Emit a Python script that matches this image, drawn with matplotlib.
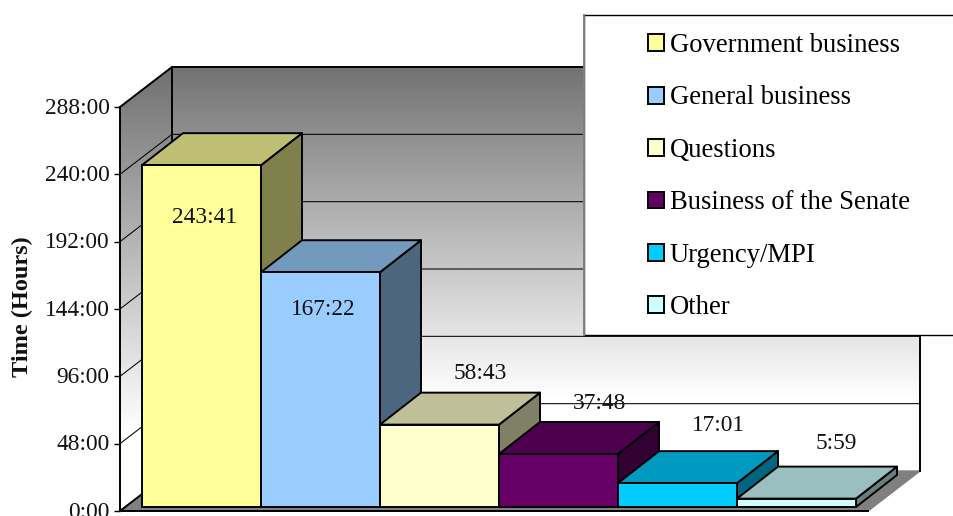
import numpy as np
import matplotlib
matplotlib.use('Agg')
import matplotlib.pyplot as plt
from matplotlib.patches import Patch, Polygon, Rectangle
from matplotlib.transforms import ScaledTranslation

plt.rcParams['font.family'] = ['Liberation Serif', 'DejaVu Serif']

# Data
categories = ['Government business', 'General business', 'Questions',
              'Business of the Senate', 'Urgency/MPI', 'Other']
time_labels = ['243:41', '167:22', '58:43', '37:48', '17:01', '5:59']
colors = ['#FFFF99', '#99CCFF', '#FFFFCC', '#660066', '#00CCFF', '#CCFFFF']
ticks = [0, 48, 96, 144, 192, 240, 288]

hours = [int(t.split(':')[0]) + int(t.split(':')[1]) / 60 for t in time_labels]

# Layout, in pixels of the 954x516 picture
W, H = 954, 516
ax_left, ax_right, ax_bottom, ax_top = 120, 868, 511, 107
bar_px = 119
px_per_hour = (ax_bottom - ax_top) / 288

def dx(px):
    return px / bar_px

def dy(px):
    return px / px_per_hour

fig = plt.figure(figsize=(W / 100, H / 100), dpi=100)
ax = fig.add_axes([ax_left / W, 1 - ax_bottom / H,
                   (ax_right - ax_left) / W, (ax_bottom - ax_top) / H])
xmin = -dx(22)
xmax = xmin + dx(ax_right - ax_left)
wall_dx, wall_dy = dx(52), dy(40)   # depth of the chart box
bar_dx, bar_dy = dx(41), dy(32)     # depth of a bar
base = dy(4)                        # bars stand a little inside the floor


def gradient_wall(points, top, bottom, darkest):
    # grey to white gradient clipped to a polygon, white comes before the floor
    poly = Polygon(points, closed=True, transform=ax.transData)
    grad = np.clip(np.linspace(darkest, 1.12, 256), 0, 1).reshape(-1, 1)
    im = ax.imshow(grad, extent=[xmin, xmax + wall_dx, bottom, top], aspect='auto',
                   cmap='gray', vmin=0, vmax=1, origin='upper', zorder=1)
    im.set_clip_box(fig.bbox)
    im.set_clip_path(poly)


# Walls and floor
back_wall = [(xmin + wall_dx, wall_dy), (xmax + wall_dx, wall_dy),
             (xmax + wall_dx, 288 + wall_dy), (xmin + wall_dx, 288 + wall_dy)]
side_wall = [(xmin, 0), (xmin + wall_dx, wall_dy),
             (xmin + wall_dx, 288 + wall_dy), (xmin, 288)]
floor = [(xmin, 0), (xmax, 0), (xmax + wall_dx, wall_dy), (xmin + wall_dx, wall_dy)]
gradient_wall(back_wall, 288 + wall_dy, wall_dy, 0.45)
gradient_wall(side_wall, 288 + wall_dy, 0, 0.44)
ax.add_patch(Polygon(floor, closed=True, fc='#808080', ec='#808080', lw=1, zorder=1.5, clip_on=False))

# Grid lines run along the side wall and the back wall
for t in ticks[1:-1]:
    ax.plot([xmin, xmin + wall_dx, xmax + wall_dx], [t, t + wall_dy, t + wall_dy],
            color='black', lw=0.75, zorder=1.6, clip_on=False)

# Outline of the walls
ax.plot([xmin, xmin + wall_dx, xmax + wall_dx], [288, 288 + wall_dy, 288 + wall_dy],
        color='black', lw=1.4, zorder=1.7, clip_on=False)
ax.plot([xmin + wall_dx, xmin + wall_dx], [wall_dy, 288 + wall_dy],
        color='black', lw=1.4, zorder=1.7, clip_on=False)
ax.plot([xmax + wall_dx, xmax + wall_dx], [wall_dy, 288 + wall_dy],
        color='black', lw=1.4, zorder=1.7, clip_on=False)
ax.plot([xmin, xmin + wall_dx], [0, wall_dy], color='black', lw=1.4, zorder=1.7, clip_on=False)


def shade(color, f):
    return tuple(c * f for c in matplotlib.colors.to_rgb(color))


# Bars, front face by the axes, top and side added as polygons
# each bar sits over the side of the bar before it
x = np.arange(len(hours))
bars = ax.bar(x, hours, bottom=base, width=1, align='edge', color=colors,
              edgecolor='black', linewidth=1.4, clip_on=False)
for i, (h, c) in enumerate(zip(hours, colors)):
    y = base + h
    top = [(i, y), (i + 1, y), (i + 1 + bar_dx, y + bar_dy), (i + bar_dx, y + bar_dy)]
    side = [(i + 1, base), (i + 1 + bar_dx, base + bar_dy), (i + 1 + bar_dx, y + bar_dy), (i + 1, y)]
    ax.add_patch(Polygon(side, closed=True, fc=shade(c, 0.5), ec='black', lw=1.4,
                         joinstyle='round', zorder=3 + i / 10, clip_on=False))
    ax.add_patch(Polygon(top, closed=True, fc=shade(c, 0.75), ec='black', lw=1.4,
                         joinstyle='round', zorder=3 + i / 10, clip_on=False))
    bars[i].set_zorder(3.05 + i / 10)

# Value labels: pixels from the back edge of the bar's top
label_shift = [-84.5, -69.5, 19.5, 18.5, 25.5, 23.5]
label_x = [-38, -38, 0, 0, 0, -1]
for i, (h, s, t, lx) in enumerate(zip(hours, label_shift, time_labels, label_x)):
    ax.text(i + 0.5 + bar_dx + dx(lx), base + h + bar_dy + dy(s), t, fontsize=16.8,
            ha='center', va='center', color='#111111', zorder=6, clip_on=False)

ax.set_xlim(xmin, xmax)
ax.set_ylim(0, 288)
ax.set_xticks([])
ax.set_yticks(ticks)
ax.set_yticklabels(['%d:00' % t for t in ticks], fontsize=16.8, color='#111111')
ax.tick_params(axis='y', length=4.5, width=1, pad=3)
for lab in ax.get_yticklabels():
    lab.set_transform(lab.get_transform() + ScaledTranslation(0, 1.5 / 100, fig.dpi_scale_trans))
ax.patch.set_alpha(0)
ax.spines['top'].set_visible(False)
ax.spines['right'].set_visible(False)
ax.spines['left'].set_linewidth(1.4)
ax.spines['bottom'].set_linewidth(1.4)
ax.spines['left'].set_zorder(2)
ax.spines['bottom'].set_zorder(2)

fig.text(22 / W, 1 - 307 / H, 'Time (Hours)', rotation=90, fontsize=17.5,
         fontweight='bold', ha='center', va='center', color='#111111')

# Legend box runs off the right side of the picture
ax.add_patch(Rectangle((584 / W, 1 - 335 / H), 400 / W, 320 / H, transform=fig.transFigure,
                       fc='white', ec='black', lw=1, zorder=10, clip_on=False))
ax.plot([584 / W, 584 / W], [1 - 335 / H, 1 - 15 / H], color='#808080', lw=1.4,
        transform=fig.transFigure, zorder=10.5, clip_on=False)
handles = [Patch(fc=c, ec='black', lw=1.4) for c in colors]
leg = ax.legend(handles, categories, loc='upper left', frameon=False, fontsize=19.2,
                bbox_to_anchor=(648 / W, 1 - 33 / H), bbox_transform=fig.transFigure,
                borderpad=0, borderaxespad=0, labelspacing=1.03,
                handlelength=0.6, handleheight=0.6, handletextpad=0.22)
leg.set_zorder(11)

plt.savefig('out.png', dpi=100)
